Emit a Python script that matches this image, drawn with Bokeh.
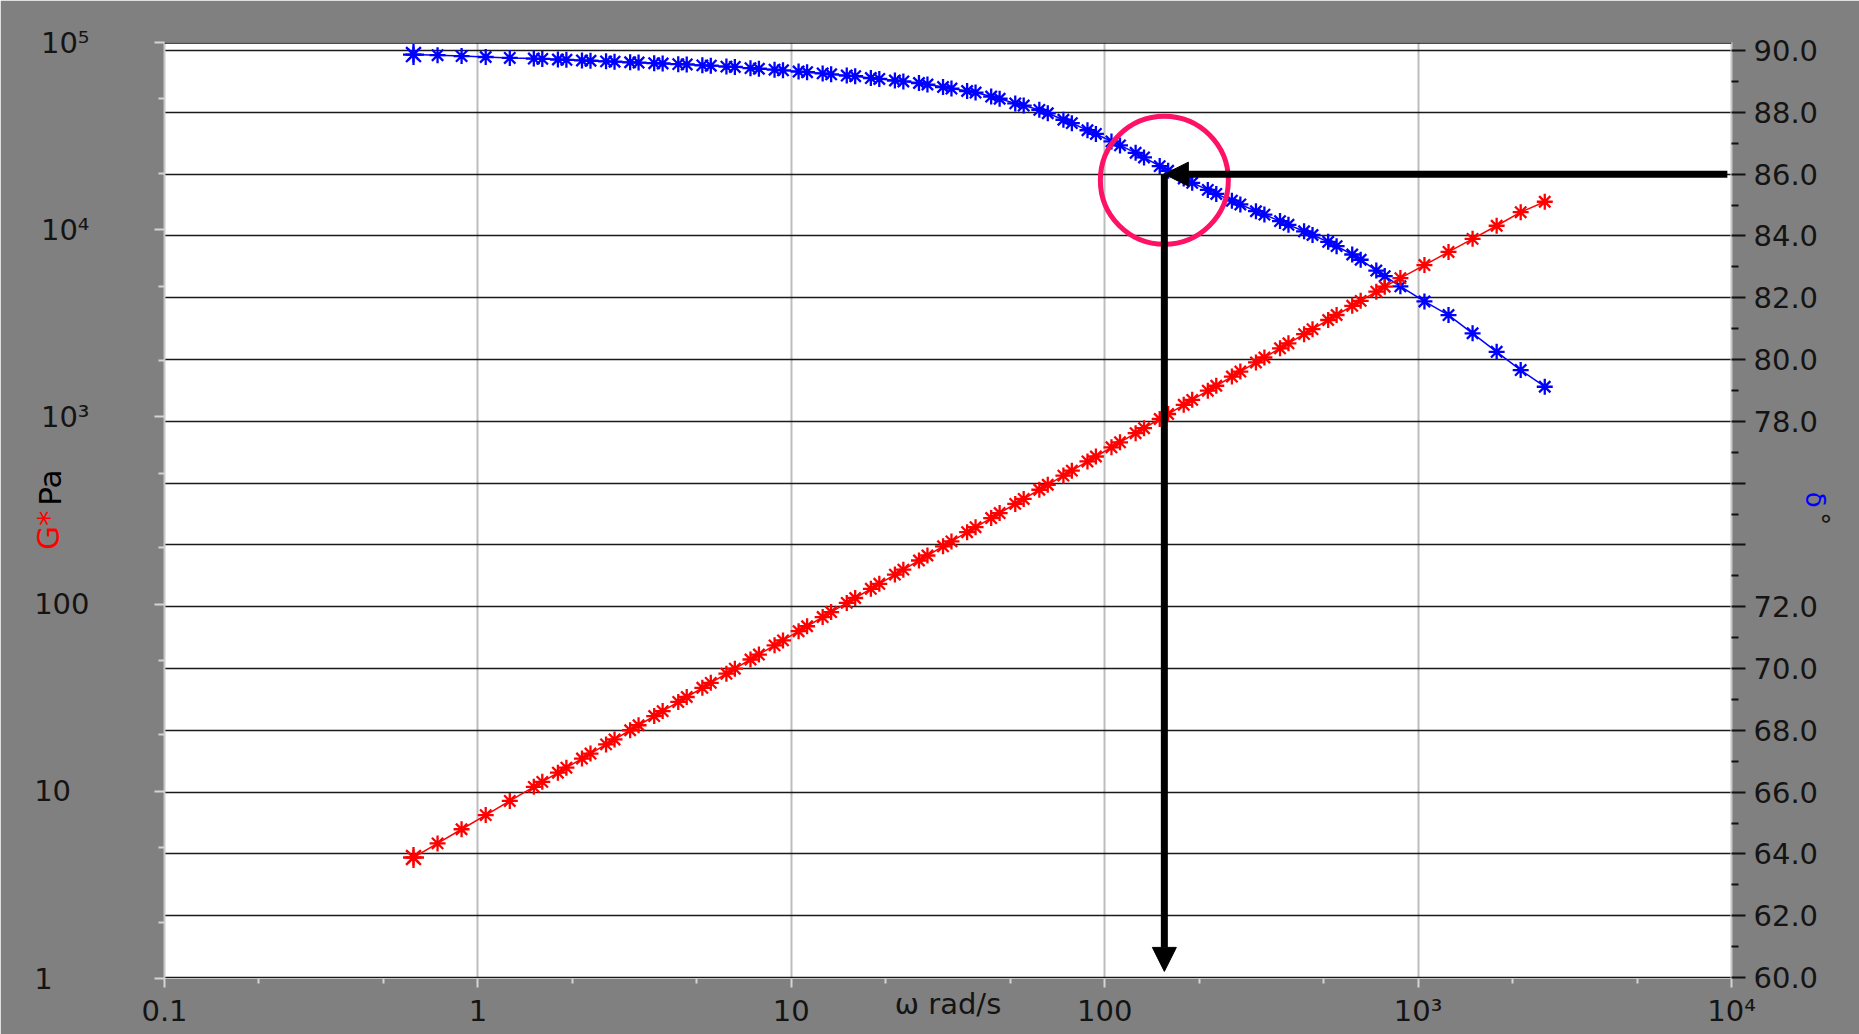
from bokeh.plotting import figure
from bokeh.models import (Range1d, LinearAxis, LogAxis, LinearScale, FixedTicker, Grid,
                          Span, Arrow, NormalHead, PrintfTickFormatter)
from bokeh.embed import file_html
from bokeh.resources import INLINE

# ---------------- data ----------------
omega = [0.623, 0.7435, 0.887, 1.059, 1.264,
         1.508, 1.605, 1.800, 1.916, 2.148, 2.287, 2.564, 2.729, 3.060, 3.256,
         3.652, 3.886, 4.358, 4.638, 5.202, 5.535, 6.208, 6.605, 7.409, 7.883,
         8.842, 9.408, 10.55, 11.23, 12.59, 13.40, 15.03, 15.99, 17.94, 19.09,
         21.41, 22.78, 25.55, 27.19, 30.49, 32.44, 36.39, 38.72, 43.43, 46.21,
         51.83, 55.15, 61.86, 65.82, 73.83, 78.55, 88.11, 93.74, 105.1, 111.9,
         125.5, 133.5, 149.8, 159.4, 178.7, 190.2, 213.3, 227.0, 254.6, 270.9,
         303.8, 323.3, 362.6, 385.8, 432.7, 460.4, 516.5, 549.5, 616.3, 655.8,
         735.6, 782.6,
         877.9, 1047.7, 1250.4, 1492.3, 1781, 2125, 2536]

g_star = [4.43, 5.27, 6.27, 7.46, 8.88,
          10.56, 11.23, 12.57, 13.37, 14.96, 15.91, 17.81, 18.93, 21.19, 22.53,
          25.22, 26.81, 30.01, 31.90, 35.71, 37.96, 42.50, 45.19, 50.58, 53.77,
          60.19, 64.00, 71.64, 76.15, 85.25, 90.64, 101.5, 107.8, 120.7, 128.3,
          143.7, 152.8, 171.0, 181.8, 203.5, 216.3, 242.2, 257.5, 288.2, 306.4,
          343.0, 364.6, 408.1, 433.9, 485.8, 516.4, 578.1, 614.4, 688.0, 731.3,
          818.7, 870.3, 974.3, 1036, 1160, 1233, 1380, 1467, 1642, 1746,
          1954, 2077, 2325, 2473, 2768, 2943, 3294, 3503, 3921, 4167,
          4665, 4960,
          5513, 6475, 7607, 8934, 10495, 12400, 14100]

delta = [89.87, 89.85, 89.82, 89.79, 89.76,
         89.74, 89.73, 89.71, 89.70, 89.68, 89.67, 89.65, 89.64, 89.62, 89.61,
         89.59, 89.58, 89.56, 89.55, 89.52, 89.51, 89.48, 89.47, 89.43, 89.41,
         89.38, 89.36, 89.32, 89.30, 89.26, 89.23, 89.19, 89.17, 89.11, 89.08,
         89.03, 89.00, 88.95, 88.90, 88.82, 88.77, 88.69, 88.64, 88.51, 88.44,
         88.29, 88.22, 88.08, 87.97, 87.76, 87.65, 87.42, 87.30, 87.06, 86.93,
         86.69, 86.54, 86.26, 86.11, 85.86, 85.72, 85.49, 85.36, 85.14, 85.02,
         84.80, 84.69, 84.48, 84.36, 84.15, 84.03, 83.81, 83.67, 83.40, 83.23,
         82.88, 82.70,
         82.37, 81.88, 81.44, 80.85, 80.25, 79.66, 79.12]

x_ticks = [0.1, 1, 10, 100, 1000, 10000]
x_minor = [0.2, 0.5, 2, 5, 20, 50, 200, 500, 2000, 5000]
x_labels = ["0.1", "1", "10", "100", "10³", "10⁴"]

g_ticks = [1, 10, 100, 1000, 10000, 100000]
g_minor = [2, 5, 20, 50, 200, 500, 2000, 5000, 20000, 50000]
g_labels = ["1", "10", "100", "10³", "10⁴", "10⁵"]

d_ticks = [60.0, 62.0, 64.0, 66.0, 68.0, 70.0, 72.0, 74.0, 76.0, 78.0,
           80.0, 82.0, 84.0, 86.0, 88.0, 90.0]
d_minor = [61, 63, 65, 67, 69, 71, 73, 75, 77, 79, 81, 83, 85, 87, 89]
d_hidden = [74.0, 76.0]

# highlighted reading: omega where delta = 86 deg
highlight_omega = 155.0
highlight_delta = 86.0
circle_delta = 85.8
arrow_from_omega = 9700.0
arrow_to_delta = 60.2

FONT = "DejaVu Sans"
TICK_SIZE = "29px"
TXT = "#141414"
GRAY = "#808080"
FS = "\u2007"   # figure space (padding)
TS = "\u2009"   # thin space

p = figure(width=1859, height=1034, x_axis_type="log", y_axis_type="log",
           x_range=Range1d(0.1, 1e4), y_range=Range1d(1, 1e5),
           output_backend="svg", toolbar_location=None,
           min_border_left=164, min_border_right=128,
           min_border_top=42, min_border_bottom=56,
           border_fill_color=GRAY, background_fill_color="white",
           outline_line_color=None)
p.extra_y_ranges = {"delta": Range1d(59.97, 90.26)}
p.extra_y_scales = {"delta": LinearScale()}


def style_ticks(ax, color, major_out, minor_out, width=2):
    ax.major_tick_line_color = color
    ax.minor_tick_line_color = color
    ax.major_tick_line_width = width
    ax.minor_tick_line_width = width
    ax.major_tick_in = 0
    ax.minor_tick_in = 0
    ax.major_tick_out = major_out
    ax.minor_tick_out = minor_out
    ax.major_label_text_font = FONT
    ax.major_label_text_font_size = TICK_SIZE
    ax.major_label_text_color = TXT
    ax.axis_label_text_font = FONT
    ax.axis_label_text_font_style = "normal"


def title_axis(cls, text, color, size, standoff, **kw):
    ax = cls(ticker=FixedTicker(ticks=[]), axis_line_color=None,
             major_tick_line_color=None, minor_tick_line_color=None,
             major_tick_out=0, minor_tick_out=0, major_tick_in=0, minor_tick_in=0,
             axis_label=text, axis_label_text_color=color,
             axis_label_text_font=FONT, axis_label_text_font_size=size,
             axis_label_text_font_style="normal", axis_label_standoff=standoff, **kw)
    return ax


# ---- x axis ----
xa = p.xaxis[0]
xa.ticker = FixedTicker(ticks=x_ticks, minor_ticks=x_minor)
xa.major_label_overrides = dict(zip(x_ticks, x_labels))
xa.axis_line_color = None
style_ticks(xa, "#d4d4d4", 9, 5)
xa.major_label_standoff = 6
xa.axis_label = "ω rad/s"
xa.axis_label_standoff = -44
xa.axis_label_text_font_size = TICK_SIZE
xa.axis_label_text_color = TXT

# ---- left (G*) axis ----
ya = p.yaxis[0]
ya.ticker = FixedTicker(ticks=g_ticks, minor_ticks=g_minor)
ya.major_label_overrides = {t: lab.ljust(3, FS) for t, lab in zip(g_ticks, g_labels)}
ya.axis_line_color = "#c8c8c8"
ya.axis_line_width = 2
style_ticks(ya, "#d4d4d4", 10, 6)
ya.major_label_standoff = 65
ya.axis_label = FS + FS + TS + "Pa"
ya.axis_label_text_color = "#000000"
ya.axis_label_text_font_size = "31px"
ya.axis_label_standoff = -37
p.add_layout(title_axis(LogAxis, "G*" + FS + FS, "#FF0000", "31px", -36), "left")

# ---- right (delta) axis ----
ra = LinearAxis(y_range_name="delta",
                ticker=FixedTicker(ticks=d_ticks, minor_ticks=d_minor),
                formatter=PrintfTickFormatter(format="%.1f"))
ra.major_label_overrides = {v: "" for v in d_hidden}
ra.axis_line_color = "#c8c8c8"
ra.axis_line_width = 2
style_ticks(ra, "#111111", 14, 7)
ra.major_label_standoff = 8
ra.axis_label = "δ" + FS + TS
ra.axis_label_text_color = "#0000FF"
ra.axis_label_text_font_size = "26px"
ra.axis_label_standoff = -21
p.add_layout(ra, "right")
p.add_layout(title_axis(LinearAxis, FS + "°", TXT, "26px", -30, y_range_name="delta"), "right")

# ---- grids ----
p.ygrid.visible = False
p.xgrid.ticker = FixedTicker(ticks=x_ticks)
p.xgrid.grid_line_color = "#bdbdbd"
p.xgrid.grid_line_width = 2
p.add_layout(Grid(dimension=1, ticker=FixedTicker(ticks=d_ticks), y_range_name="delta",
                  grid_line_color="#1a1a1a", grid_line_width=1.6))
p.add_layout(Span(location=1e5, dimension="width", line_color="#111111", line_width=2.5))

# ---- data ----
p.line(omega, delta, y_range_name="delta", line_color="#0000FF", line_width=1.5)
p.scatter(omega, delta, y_range_name="delta", marker="asterisk", size=16,
          line_color="#0000FF", line_width=2.3)
p.scatter(omega[:1], delta[:1], y_range_name="delta", marker="asterisk", size=21,
          line_color="#0000FF", line_width=2.3)

p.line(omega, g_star, line_color="#FF0000", line_width=1.5)
p.scatter(omega, g_star, marker="asterisk", size=16, line_color="#FF0000", line_width=2.3)
p.scatter(omega[:1], g_star[:1], marker="asterisk", size=21, line_color="#FF0000", line_width=2.3)

# ---- highlight: circle and arrows ----
p.scatter([highlight_omega], [circle_delta], y_range_name="delta", marker="circle",
          size=128, fill_color=None, line_color="#FF1166", line_width=5)

head = dict(size=24, fill_color="black", line_color="black")
p.add_layout(Arrow(end=NormalHead(**head), x_start=arrow_from_omega, y_start=highlight_delta,
                   x_end=highlight_omega, y_end=highlight_delta, y_range_name="delta",
                   line_color="black", line_width=7))
p.add_layout(Arrow(end=NormalHead(**head), x_start=highlight_omega, y_start=highlight_delta,
                   x_end=highlight_omega, y_end=arrow_to_delta, y_range_name="delta",
                   line_color="black", line_width=7))

open("out.html", "w").write(file_html(p, INLINE))
